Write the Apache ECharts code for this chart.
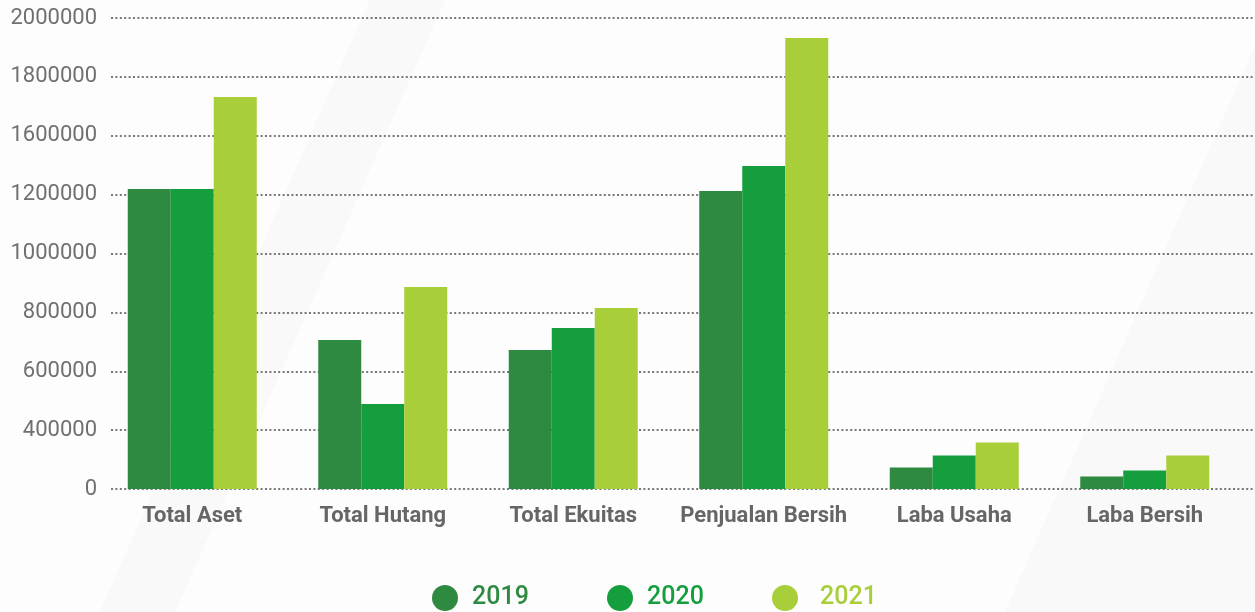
<!DOCTYPE html>
<html>
<head>
<meta charset="utf-8">
<style>
  html, body { margin: 0; padding: 0; background: #fdfdfd; }
  #chart { width: 1255px; height: 612px; }
</style>
<script src="https://cdn.jsdelivr.net/npm/echarts@6/dist/echarts.min.js"></script>
</head>
<body>
<div id="chart"></div>
<script>
const categories = ['Total Aset', 'Total Hutang', 'Total Ekuitas', 'Penjualan Bersih', 'Laba Usaha', 'Laba Bersih']
const years = ['2019', '2020', '2021']
const values2019 = [1274000, 633000, 590000, 1265000, 91000, 53000]
const values2020 = [1274000, 361000, 684000, 1372000, 142000, 79000]
const values2021 = [1665000, 858000, 769000, 1915000, 197000, 142000]
// tick labels as printed on the original (evenly spaced, not linear)
const yTickLabels = ['0', '400000', '600000', '800000', '1000000', '1200000', '1600000', '1800000', '2000000']

const colors = ['#2e8a41', '#159e3e', '#a8ce3a']
const STEP = 250000

const chart = echarts.init(document.getElementById('chart'))

function yearLegend(i, left, pad) {
  return {
    left,
    top: 580,
    icon: 'circle',
    itemWidth: 26,
    itemHeight: 26,
    selectedMode: false,
    data: [{
      name: years[i],
      textStyle: { color: colors[i], padding: [0, 0, 0, pad] }
    }],
    textStyle: { fontFamily: 'Roboto', fontSize: 25, fontWeight: 500 }
  }
}

chart.setOption({
  backgroundColor: '#fdfdfd',
  animation: false,
  graphic: [
    {
      type: 'polygon', z: -100, silent: true,
      shape: { points: [[370, 0], [445, 0], [175, 612], [100, 612]] },
      style: { fill: '#f9f9f9' }
    },
    {
      type: 'polygon', z: -100, silent: true,
      shape: { points: [[1275, 0], [1255, 612], [1005, 612]] },
      style: { fill: '#f9f9f9' }
    }
  ],
  legend: [
    yearLegend(0, 427, 9),
    yearLegend(1, 602, 9),
    yearLegend(2, 767, 17)
  ],
  grid: [
    { left: 111, right: 0, top: 18, bottom: 123 },
    { left: 97, right: 15, top: 18, bottom: 123 }
  ],
  xAxis: [
    { gridIndex: 0, type: 'value', show: false, min: 0, max: 1 },
    {
      gridIndex: 1,
      type: 'category',
      data: categories,
      axisLine: { show: false },
      axisTick: { show: false },
      axisLabel: {
        interval: 0,
        color: '#666666',
        fontFamily: 'Roboto',
        fontWeight: 'bold',
        fontSize: 22,
        margin: 16
      }
    }
  ],
  yAxis: [
    {
      gridIndex: 0,
      type: 'value',
      min: 0,
      max: 2000000,
      interval: STEP,
      axisLine: { show: false },
      axisTick: { show: false },
      axisLabel: {
        color: '#707070',
        fontFamily: 'Roboto',
        fontSize: 22,
        margin: 14,
        formatter: (v) => yTickLabels[Math.round(v / STEP)]
      },
      splitLine: {
        lineStyle: { color: '#777777', width: 2, type: [2, 2.4] }
      }
    },
    {
      gridIndex: 1,
      type: 'value',
      min: 0,
      max: 2000000,
      show: false,
      splitLine: { show: false }
    }
  ],
  series: [values2019, values2020, values2021].map((data, i) => ({
    name: years[i],
    type: 'bar',
    xAxisIndex: 1,
    yAxisIndex: 1,
    data,
    barWidth: 43,
    barGap: '0%',
    itemStyle: { color: colors[i] }
  }))
})
</script>
</body>
</html>
